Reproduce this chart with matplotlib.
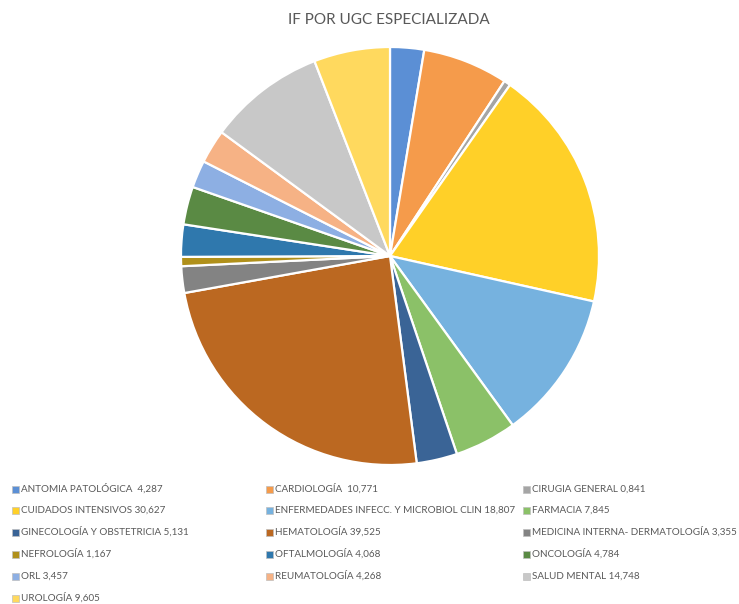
import matplotlib
matplotlib.use("Agg")
import matplotlib.pyplot as plt
from matplotlib.patches import Rectangle

TITLE = "IF POR UGC ESPECIALIZADA"

UNITS = [
    "ANTOMIA PATOLÓGICA ",
    "CARDIOLOGÍA ",
    "CIRUGIA GENERAL",
    "CUIDADOS INTENSIVOS",
    "ENFERMEDADES INFECC. Y MICROBIOL CLIN",
    "FARMACIA",
    "GINECOLOGÍA Y OBSTETRICIA",
    "HEMATOLOGÍA",
    "MEDICINA INTERNA- DERMATOLOGÍA",
    "NEFROLOGÍA",
    "OFTALMOLOGÍA",
    "ONCOLOGÍA",
    "ORL",
    "REUMATOLOGÍA",
    "SALUD MENTAL",
    "UROLOGÍA",
]
VALUES = [4.287, 10.771, 0.841, 30.627, 18.807, 7.845, 5.131, 39.525,
          3.355, 1.167, 4.068, 4.784, 3.457, 4.268, 14.748, 9.605]
VALUE_TEXT = ["4,287", "10,771", "0,841", "30,627", "18,807", "7,845", "5,131", "39,525",
              "3,355", "1,167", "4,068", "4,784", "3,457", "4,268", "14,748", "9,605"]

COLORS = [
    "#5B8FD5", "#F59B4B", "#A5A5A5", "#FFD028",
    "#76B2DF", "#8BC168", "#3A6496", "#BB6821",
    "#838383", "#B0901A", "#2F78AD", "#5A8A44",
    "#8DAFE3", "#F6B285", "#C8C8C8", "#FFD95E",
]

TEXT_COLOR = "#595959"
FONT = ["Lato", "DejaVu Sans"]

W, H = 739, 604
fig = plt.figure(figsize=(W / 100, H / 100), dpi=100)
fig.patch.set_facecolor("white")

# pie centred at (390, 256) px with radius ~209 px
cx, cy, r = 390, 256, 209
ax = fig.add_axes([(cx - r) / W, (H - cy - r) / H, 2 * r / W, 2 * r / H])
ax.pie(
    VALUES,
    colors=COLORS,
    startangle=90,
    counterclock=False,
    radius=1.0,
    wedgeprops=dict(edgecolor="white", linewidth=1.6),
)
ax.set_xlim(-1.0, 1.0)
ax.set_ylim(-1.0, 1.0)
ax.set_aspect("equal")
ax.axis("off")

fig.text(389 / W, 1 - 20 / H, TITLE, ha="center", va="center",
         fontsize=11, color=TEXT_COLOR, family=FONT)

# legend, row-major in three columns
col_x = [12, 266, 523]
row_y = [489, 510, 532, 554, 576, 598]
sq = 7
for i, (name, val, color) in enumerate(zip(UNITS, VALUE_TEXT, COLORS)):
    row, col = divmod(i, 3)
    x, y = col_x[col], row_y[row]
    fig.patches.append(Rectangle((x / W, 1 - (y + sq / 2) / H), sq / W, sq / H,
                                 facecolor=color, edgecolor="#BFBFBF", linewidth=0.5,
                                 transform=fig.transFigure, figure=fig))
    fig.text((x + sq + 2) / W, 1 - y / H, f"{name} {val}", ha="left", va="center",
             fontsize=7.1, color=TEXT_COLOR, family=FONT)

fig.savefig("out.png", dpi=100, facecolor="white")
